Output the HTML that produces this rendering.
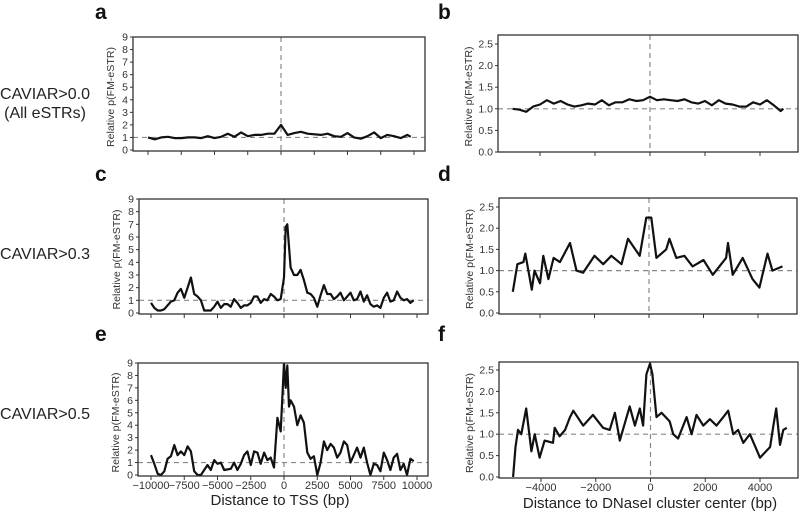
<!DOCTYPE html>
<html><head><meta charset="utf-8"><style>
body{margin:0;background:#fff;}
svg{display:block;font-family:"Liberation Sans",Arial,sans-serif;}
</style></head><body>
<svg id="fig" width="800" height="511" viewBox="0 0 800 511">
<g font-weight="bold" font-size="21" fill="#111">
<text x="95" y="19">a</text>
<text x="438" y="19">b</text>
<text x="95" y="181">c</text>
<text x="438" y="181">d</text>
<text x="95" y="341">e</text>
<text x="438" y="341">f</text>
</g>
<g font-size="16" fill="#222" text-anchor="middle">
<text x="45" y="99">CAVIAR&gt;0.0</text>
<text x="45" y="118">(All eSTRs)</text>
<text x="45" y="259">CAVIAR&gt;0.3</text>
<text x="45" y="419">CAVIAR&gt;0.5</text>
</g>
<text x="280" y="505" text-anchor="middle" font-size="15" fill="#222">Distance to TSS (bp)</text>
<text x="650" y="508" text-anchor="middle" font-size="15" fill="#222">Distance to DNaseI cluster center (bp)</text>
</svg>
<script>
// ---- data ----
const tssTicks = [-10000,-7500,-5000,-2500,0,2500,5000,7500,10000];
const dnaseTicks = [-4000,-2000,0,2000,4000];
const leftYTicks = [0,1,2,3,4,5,6,7,8,9];
const rightYTicks = [0,0.5,1,1.5,2,2.5];
const rightYLabels = ["0.0","0.5","1.0","1.5","2.0","2.5"];

const aX = [-10000,-9500,-9000,-8500,-8000,-7500,-7000,-6500,-6000,-5500,-5000,-4500,-4000,-3500,-3000,-2500,-2000,-1500,-1000,-500,0,500,1000,1500,2000,2500,3000,3500,4000,4500,5000,5500,6000,6500,7000,7500,8000,8500,9000,9500,9750];
const aY = [1.0,0.85,1.0,1.05,0.95,0.95,1.0,1.0,0.95,1.1,0.95,1.05,1.3,1.05,1.4,1.1,1.2,1.2,1.3,1.3,2.0,1.2,1.35,1.45,1.3,1.25,1.2,1.3,1.1,1.05,1.35,1.0,0.9,1.1,1.4,0.95,1.2,1.1,0.95,1.2,1.05];

const cX = [-10000,-9750,-9500,-9250,-9000,-8750,-8500,-8250,-8000,-7750,-7500,-7250,-7000,-6750,-6500,-6250,-6000,-5750,-5500,-5250,-5000,-4750,-4500,-4250,-4000,-3750,-3500,-3250,-3000,-2750,-2500,-2250,-2000,-1750,-1500,-1250,-1000,-750,-500,-250,0,125,250,500,750,1000,1250,1500,1750,2000,2250,2500,2750,3000,3250,3500,3750,4000,4250,4500,4750,5000,5250,5500,5750,6000,6250,6500,6750,7000,7250,7500,7750,8000,8250,8500,8750,9000,9250,9500,9750];
const cY = [0.8,0.4,0.2,0.2,0.3,0.6,0.9,1.0,1.6,1.9,1.2,2.0,2.8,1.5,1.3,1.0,0.2,0.2,0.2,0.5,0.9,0.4,0.7,0.7,0.5,1.1,0.8,0.4,0.6,0.6,0.8,1.3,1.3,0.8,1.1,1.0,1.5,1.3,1.0,1.1,2.8,6.8,7.0,3.6,3.0,3.0,3.4,2.6,1.6,1.5,1.2,0.5,1.4,2.2,1.5,1.5,1.1,1.3,1.6,1.0,1.3,1.6,1.0,1.1,1.7,0.9,1.4,0.7,0.5,0.6,0.4,1.2,1.6,0.9,1.0,1.7,1.2,1.0,1.1,0.8,1.0];

const eX = [-10000,-9750,-9500,-9250,-9000,-8750,-8500,-8250,-8000,-7750,-7500,-7250,-7000,-6750,-6500,-6250,-5750,-5500,-5250,-5000,-4750,-4500,-4000,-3750,-3500,-3250,-3000,-2750,-2500,-2250,-2000,-1750,-1500,-1250,-1000,-750,-500,-250,0,125,250,375,500,750,1000,1250,1500,1750,2000,2250,2500,2750,3000,3250,3500,3750,4000,4250,4500,4750,5000,5250,5500,5750,6000,6250,6500,6750,7000,7250,7500,7750,8000,8250,8500,8750,9000,9250,9500,9750];
const eY = [1.6,0.9,0.1,0.0,0.3,1.3,1.5,2.4,1.6,1.9,1.6,2.3,1.9,0.3,0.0,0.0,0.8,0.4,1.2,0.9,1.0,0.4,0.5,1.0,0.4,0.9,1.6,1.9,0.8,1.9,1.8,0.9,1.8,1.2,1.4,0.6,4.6,3.5,9.0,7.0,8.8,5.5,6.0,5.5,4.0,4.8,4.2,1.8,1.3,1.5,0.0,1.0,2.7,2.0,2.5,2.2,1.4,1.8,2.7,2.4,1.0,1.6,2.2,1.4,2.2,1.0,0.0,0.9,0.8,0.3,1.8,1.2,0.4,1.4,1.7,0.4,0.9,0.0,1.3,1.1];

const bX = [-5000,-4750,-4500,-4250,-4000,-3750,-3500,-3250,-3000,-2750,-2500,-2250,-2000,-1750,-1500,-1250,-1000,-750,-500,-250,0,250,500,750,1000,1250,1500,1750,2000,2250,2500,2750,3000,3250,3500,3750,4000,4250,4500,4750,4850];
const bY = [1.0,0.98,0.93,1.05,1.1,1.2,1.12,1.18,1.1,1.05,1.08,1.12,1.1,1.2,1.08,1.15,1.15,1.22,1.18,1.2,1.28,1.2,1.22,1.2,1.18,1.22,1.15,1.12,1.18,1.08,1.2,1.12,1.1,1.05,1.05,1.15,1.1,1.2,1.08,0.95,1.0];

const dX = [-5000,-4830,-4610,-4540,-4370,-4300,-4200,-4000,-3880,-3690,-3500,-3270,-2900,-2660,-2420,-2000,-1680,-1380,-1010,-770,-340,-100,85,270,630,750,1000,1300,1600,2000,2340,2830,2900,3070,3440,3800,4050,4350,4530,4900];
const dY = [0.5,1.15,1.2,1.4,0.8,0.55,1.0,0.7,1.35,0.8,1.3,1.2,1.65,1.0,0.95,1.35,1.15,1.35,1.15,1.75,1.35,2.25,2.25,1.3,1.5,1.75,1.3,1.35,1.1,1.25,0.9,1.3,1.65,0.9,1.3,0.8,0.6,1.4,1.0,1.1];

const fX = [-5020,-4930,-4840,-4720,-4540,-4350,-4230,-4050,-3870,-3560,-3500,-3320,-3120,-2940,-2820,-2460,-2100,-1730,-1490,-1300,-1120,-760,-570,-390,-270,-150,-20,70,220,400,700,830,1010,1320,1500,1680,1930,2170,2410,2660,2840,3020,3200,3390,3630,4000,4370,4490,4590,4730,4850,4980];
const fY = [0.0,0.7,1.1,1.0,1.6,0.6,1.0,0.45,0.85,0.8,1.15,0.95,1.1,1.4,1.55,1.2,1.45,1.15,1.1,1.5,0.85,1.65,1.2,1.6,1.2,2.4,2.65,2.4,1.4,1.5,1.3,1.0,0.9,1.4,1.0,1.45,1.2,1.35,1.2,1.4,1.55,1.0,1.1,0.8,1.0,0.45,0.7,1.2,1.6,0.75,1.1,1.15];

// ---- layout ----
const NS = "http://www.w3.org/2000/svg";
const svg = document.getElementById('fig');
function mk(tag, attrs, parent){const e=document.createElementNS(NS,tag);for(const k in attrs)e.setAttribute(k,attrs[k]);(parent||svg).appendChild(e);return e;}

const panels = [
 {id:'a', l:133,r:425,t:37,b:151, xa:-10000,xpa:148,xb:10000,xpb:414, y0p:150,ymax:9, ytp:37, xs:aX, ys:aY, tick:tssTicks, yt:leftYTicks, yl:null, lab:false},
 {id:'c', l:139,r:428,t:199,b:314, xa:-10000,xpa:151,xb:10000,xpb:417, y0p:313,ymax:9, ytp:199, xs:cX, ys:cY, tick:tssTicks, yt:leftYTicks, yl:null, lab:false},
 {id:'e', l:138,r:428,t:363,b:476, xa:-10000,xpa:151,xb:10000,xpb:417, y0p:475,ymax:9, ytp:363, xs:eX, ys:eY, tick:tssTicks, yt:leftYTicks, yl:null, lab:true},
 {id:'b', l:498,r:798,t:35,b:152, xa:-4000,xpa:540,xb:4000,xpb:760, y0p:152,ymax:2.5, ytp:44, xs:bX, ys:bY, tick:dnaseTicks, yt:rightYTicks, yl:rightYLabels, lab:false},
 {id:'d', l:499,r:797,t:198,b:314, xa:-4000,xpa:540,xb:4000,xpb:758, y0p:313,ymax:2.5, ytp:207, xs:dX, ys:dY, tick:dnaseTicks, yt:rightYTicks, yl:rightYLabels, lab:false},
 {id:'f', l:499,r:798,t:362,b:478, xa:-4000,xpa:541,xb:4000,xpb:760, y0p:477,ymax:2.5, ytp:370, xs:fX, ys:fY, tick:dnaseTicks, yt:rightYTicks, yl:rightYLabels, lab:true},
];

panels.forEach(p=>{
  const g = mk('g',{});
  
  
  const X = v => p.xpa + (v-p.xa)*(p.xpb-p.xpa)/(p.xb-p.xa);
  const Y = v => p.y0p - v*(p.y0p-p.ytp)/p.ymax;
  const clip = mk('clipPath',{id:'clip'+p.id},g);
  mk('rect',{x:p.l,y:p.t,width:p.r-p.l,height:p.b-p.t},clip);
  const h = mk('line',{x1:p.l,x2:p.r,y1:Y(1),y2:Y(1),stroke:'#888','stroke-width':1.2,'stroke-dasharray':'5,4'},g);
  
  
  const v = mk('line',{x1:X(0),x2:X(0),y1:p.t,y2:p.b,stroke:'#888','stroke-width':1.2,'stroke-dasharray':'5,4'},g);
  
  
  const d = p.xs.map((x,i)=>(i?'L':'M')+X(x).toFixed(1)+','+Y(p.ys[i]).toFixed(1)).join('');
  const path = mk('path',{d:d,fill:'none',stroke:'#111','stroke-width':2.2,'stroke-linejoin':'round','clip-path':'url(#clip'+p.id+')'},g);
  
  
  const box = mk('rect',{x:p.l,y:p.t,width:p.r-p.l,height:p.b-p.t,fill:'none',stroke:'#333','stroke-width':1.3},g);
  
  
  p.yt.forEach((t,i)=>{
    const yy = Y(t);
    mk('line',{x1:p.l-3,x2:p.l,y1:yy,y2:yy,stroke:'#333','stroke-width':1},g);
    const tx = mk('text',{x:p.l-5,y:yy+3.5,'text-anchor':'end','font-size':10.5,fill:'#333'},g);
    tx.textContent = p.yl ? p.yl[i] : String(t);
    
    
  });
  p.tick.forEach(t=>{
    const xx = X(t);
    mk('line',{x1:xx,x2:xx,y1:p.b,y2:p.b+4,stroke:'#333','stroke-width':1},g);
    if(p.lab){
      const tx = mk('text',{x:xx,y:p.b+13,'text-anchor':'middle','font-size':11,fill:'#333'},g);
      tx.textContent = t<0 ? '\u2212'+(-t) : String(t);
      
      
    }
  });
  const cx = p.l - (p.yl ? 26 : 19), cy = (p.t+p.b)/2 + 3;
  const yt = mk('text',{x:cx,y:cy,'text-anchor':'middle','font-size':10.5,fill:'#333',textLength:100,lengthAdjust:'spacingAndGlyphs',transform:'rotate(-90 '+cx+' '+cy+')'},g);
  yt.textContent = 'Relative p(FM-eSTR)';
  
  
});
</script>
</body></html>
